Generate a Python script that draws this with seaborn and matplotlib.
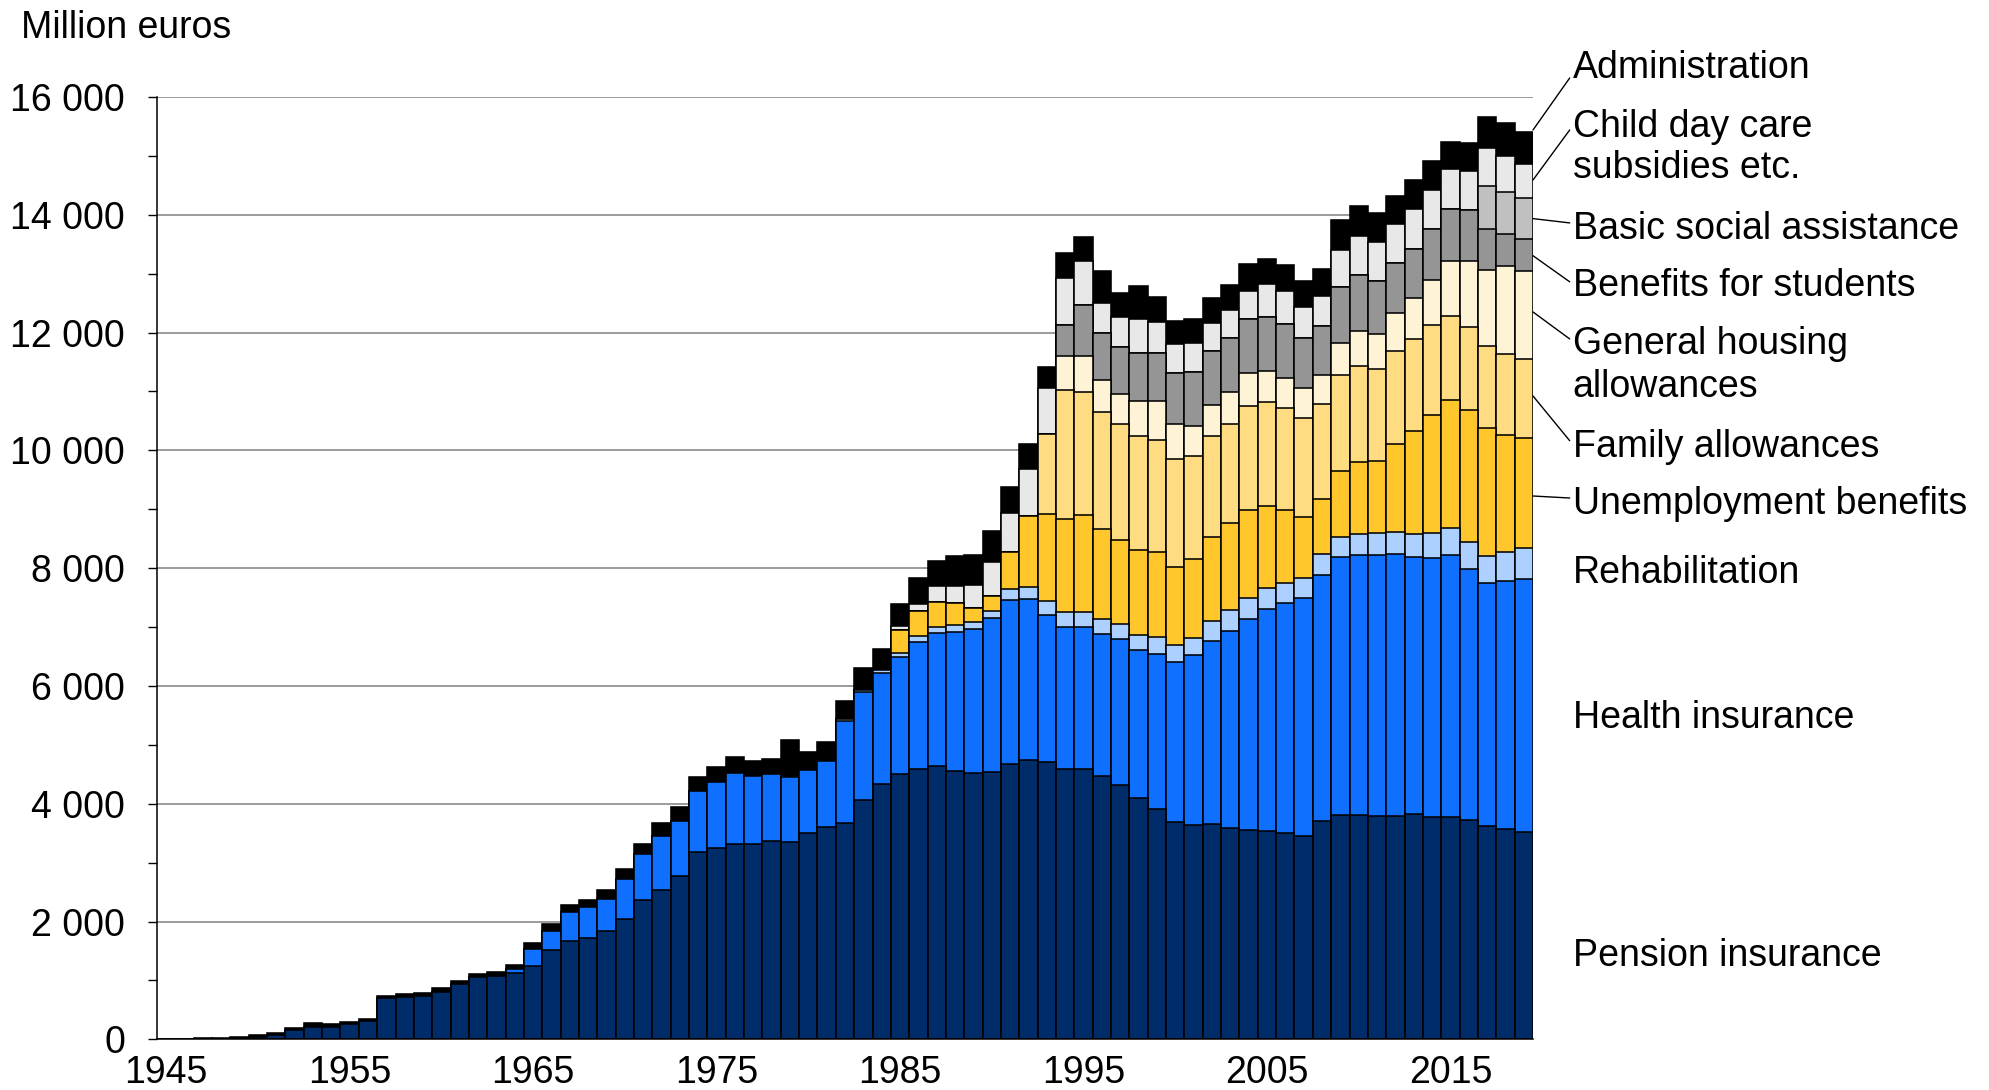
import matplotlib
matplotlib.use("Agg")
import matplotlib.pyplot as plt
import seaborn as sns
import pandas as pd
from matplotlib.ticker import MultipleLocator, FuncFormatter

# ---------------- data (million euros) ----------------
years = list(range(1945, 2020))

pension = [5, 5, 8, 12, 25, 45, 70, 150, 215, 215, 255, 305, 697, 714, 737, 811, 935, 1055, 1083,
           1123, 1253, 1520, 1673, 1718, 1838, 2045, 2360, 2533, 2769, 3182, 3254, 3315, 3321, 3375, 3351, 3503, 3606,
           3666, 4068, 4330, 4513, 4595, 4638, 4560, 4525, 4545, 4675, 4743, 4706, 4596, 4596, 4477, 4321, 4103, 3917,
           3685, 3642, 3651, 3588, 3554, 3543, 3509, 3453, 3713, 3809, 3809, 3798, 3792, 3826, 3781, 3775, 3718, 3617,
           3577, 3526]

health = [0, 0, 0, 0, 0, 0, 0, 0, 0, 0, 0, 0, 0, 0, 0, 0, 0, 0, 0,
          74, 278, 317, 487, 522, 542, 675, 785, 921, 940, 1042, 1109, 1200, 1151, 1128, 1103, 1066, 1121,
          1739, 1834, 1888, 1972, 2155, 2262, 2360, 2437, 2601, 2784, 2737, 2499, 2411, 2410, 2410, 2479, 2507, 2626,
          2714, 2878, 3112, 3345, 3580, 3758, 3893, 4034, 4171, 4375, 4414, 4425, 4442, 4369, 4385, 4448, 4267, 4136,
          4210, 4284]

rehabilitation = [0, 0, 0, 0, 0, 0, 0, 0, 0, 0, 0, 0, 0, 0, 0, 0, 0, 0, 0,
                  0, 0, 0, 0, 0, 0, 0, 0, 0, 0, 0, 0, 0, 0, 0, 0, 0, 0,
                  37, 37, 45, 75, 92, 97, 112, 120, 134, 181, 200, 232, 241, 244, 253, 255, 263, 280,
                  301, 300, 337, 357, 354, 356, 351, 351, 350, 350, 351, 368, 374, 379, 436, 453, 465, 459,
                  481, 526]

unemployment = [0, 0, 0, 0, 0, 0, 0, 0, 0, 0, 0, 0, 0, 0, 0, 0, 0, 0, 0,
                0, 0, 0, 0, 0, 0, 0, 0, 0, 0, 0, 0, 0, 0, 0, 0, 0, 0,
                0, 0, 0, 390, 424, 436, 372, 248, 247, 640, 1211, 1482, 1586, 1652, 1525, 1423, 1435, 1457,
                1325, 1335, 1434, 1471, 1499, 1398, 1234, 1036, 940, 1116, 1234, 1228, 1494, 1760, 1993, 2179, 2235, 2162,
                1993, 1879]

family = [0, 0, 0, 0, 0, 0, 0, 0, 0, 0, 0, 0, 0, 0, 0, 0, 0, 0, 0,
          0, 0, 0, 0, 0, 0, 0, 0, 0, 0, 0, 0, 0, 0, 0, 0, 0, 0,
          0, 0, 0, 0, 0, 0, 0, 0, 0, 0, 0, 1353, 2191, 2083, 1992, 1969, 1936, 1896,
          1828, 1749, 1716, 1686, 1772, 1760, 1727, 1670, 1613, 1630, 1619, 1563, 1588, 1560, 1539, 1429, 1415, 1404,
          1375, 1336]

housing = [0, 0, 0, 0, 0, 0, 0, 0, 0, 0, 0, 0, 0, 0, 0, 0, 0, 0, 0,
           0, 0, 0, 0, 0, 0, 0, 0, 0, 0, 0, 0, 0, 0, 0, 0, 0, 0,
           0, 0, 0, 0, 0, 0, 0, 0, 0, 0, 0, 0, 583, 617, 532, 510, 594, 662,
           594, 509, 520, 550, 549, 538, 520, 509, 493, 543, 594, 600, 643, 693, 765, 934, 1110, 1285,
           1494, 1500]

students = [0, 0, 0, 0, 0, 0, 0, 0, 0, 0, 0, 0, 0, 0, 0, 0, 0, 0, 0,
            0, 0, 0, 0, 0, 0, 0, 0, 0, 0, 0, 0, 0, 0, 0, 0, 0, 0,
            0, 0, 0, 0, 0, 0, 0, 0, 0, 0, 0, 0, 521, 866, 809, 804, 821, 821,
            861, 912, 917, 905, 917, 917, 912, 849, 837, 951, 949, 897, 854, 838, 852, 878, 871, 690,
            538, 538]

basic_assistance = [0, 0, 0, 0, 0, 0, 0, 0, 0, 0, 0, 0, 0, 0, 0, 0, 0, 0, 0,
                    0, 0, 0, 0, 0, 0, 0, 0, 0, 0, 0, 0, 0, 0, 0, 0, 0, 0,
                    0, 0, 0, 0, 0, 0, 0, 0, 0, 0, 0, 0, 0, 0, 0, 0, 0, 0,
                    0, 0, 0, 0, 0, 0, 0, 0, 0, 0, 0, 0, 0, 0, 0, 0, 0, 736,
                    725, 702]

child_day_care = [0, 0, 0, 0, 0, 0, 0, 0, 0, 0, 0, 0, 0, 0, 0, 0, 0, 0, 0,
                  0, 0, 0, 0, 0, 0, 0, 0, 0, 0, 0, 0, 0, 0, 0, 0, 0, 0,
                  0, 0, 0, 60, 126, 257, 296, 382, 573, 662, 787, 781, 803, 753, 510, 509, 566, 526,
                  498, 504, 481, 481, 481, 549, 560, 538, 504, 622, 673, 651, 657, 668, 670, 676, 663, 651,
                  611, 571]

administration = [3, 5, 7, 18, 22, 28, 32, 36, 57, 46, 40, 37, 46, 51, 45, 56, 57, 56, 57,
                  67, 102, 119, 125, 130, 155, 168, 170, 218, 230, 230, 261, 272, 255, 254, 636, 315, 321,
                  309, 363, 368, 388, 442, 439, 506, 505, 524, 430, 424, 368, 413, 407, 543, 396, 571, 413,
                  396, 401, 413, 425, 458, 425, 441, 441, 453, 510, 509, 500, 475, 498, 487, 458, 469, 515,
                  549, 550]

series_names = ["Pension insurance", "Health insurance", "Rehabilitation", "Unemployment benefits",
                "Family allowances", "General housing allowances", "Benefits for students",
                "Basic social assistance", "Child day care subsidies etc.", "Administration"]
series_values = [pension, health, rehabilitation, unemployment, family, housing, students,
                 basic_assistance, child_day_care, administration]
colors = ["#002c69", "#0f6fff", "#acd0ff", "#ffc72c", "#ffdc82", "#fff3d6",
          "#959595", "#c0c0c0", "#e8e8e8", "#000000"]

# ---------------- style ----------------
sns.set_theme(style="white")
plt.rcParams["font.family"] = ["Liberation Sans", "DejaVu Sans"]
plt.rcParams["text.color"] = "black"
plt.rcParams["xtick.color"] = "black"
plt.rcParams["ytick.color"] = "black"
plt.rcParams["axes.labelcolor"] = "black"

FS = 27

fig = plt.figure(figsize=(19.9, 10.9), dpi=100)
ax = fig.add_axes([157 / 1990, 1 - 1039.3 / 1090, 1376 / 1990, (1039.3 - 97) / 1090])

df = pd.DataFrame({n: v for n, v in zip(series_names, series_values)}, index=years)
cum = df.cumsum(axis=1)
year_labels = [str(y) for y in years]

# draw cumulative totals from the top series down, so each lower layer covers the previous
for name, color in reversed(list(zip(series_names, colors))):
    sns.barplot(x=year_labels, y=cum[name].values, order=year_labels, color=color, saturation=1,
                width=1.0, edgecolor="black", linewidth=1.15, errorbar=None, ax=ax, zorder=3)

# ---------------- axes ----------------
ax.set_xlim(-0.5, len(years) - 0.5)
ax.set_ylim(0, 16000)
ax.set_xlabel("")
ax.set_ylabel("")
ax.yaxis.set_major_locator(MultipleLocator(2000))
ax.yaxis.set_minor_locator(MultipleLocator(1000))
ax.yaxis.set_major_formatter(FuncFormatter(lambda v, p: f"{int(v):,}".replace(",", " ")))
ax.yaxis.grid(True, which="major", color="#8a8a8a", linewidth=1.2, zorder=0)
ax.xaxis.grid(False)
ax.set_axisbelow(True)

tick_pos = list(range(0, len(years), 10))
ax.set_xticks(tick_pos)
ax.set_xticklabels([year_labels[i] for i in tick_pos])
ax.tick_params(axis="x", which="both", length=0, pad=11.5, labelsize=FS)
ax.tick_params(axis="y", which="both", left=True, direction="out", length=6.5, width=1.0,
               color="black", pad=16.5, labelsize=FS)

for s in ["top", "right"]:
    ax.spines[s].set_visible(False)
for s in ["left", "bottom"]:
    ax.spines[s].set_color("black")
    ax.spines[s].set_linewidth(1.1)
    ax.spines[s].set_zorder(5)

fig.text(21 / 1990, 1 - 37.5 / 1090, "Million euros", ha="left", va="baseline", fontsize=FS)

# ---------------- right-hand labels ----------------
text_x = 76.66
labels = [
    ("Administration", 16561),
    ("Child day care", 15559),
    ("subsidies etc.", 14863),
    ("Basic social assistance", 13827),
    ("Benefits for students", 12859),
    ("General housing", 11874),
    ("allowances", 11144),
    ("Family allowances", 10125),
    ("Unemployment benefits", 9157),
    ("Rehabilitation", 7986),
    ("Health insurance", 5524),
    ("Pension insurance", 1483),
]
for txt, yv in labels:
    ax.text(text_x, yv, txt, ha="left", va="center_baseline", fontsize=FS, clip_on=False)

leaders = [
    (15440, 16323),
    (14591, 15440),
    (13935, 13862),
    (13305, 12862),
    (12350, 11892),
    (10923, 10164),
    (9225, 9191),
]
for y0, y1 in leaders:
    ax.plot([74.5, 76.5], [y0, y1], color="black", linewidth=1.0, clip_on=False, zorder=6)

fig.savefig("out.png", dpi=100)
